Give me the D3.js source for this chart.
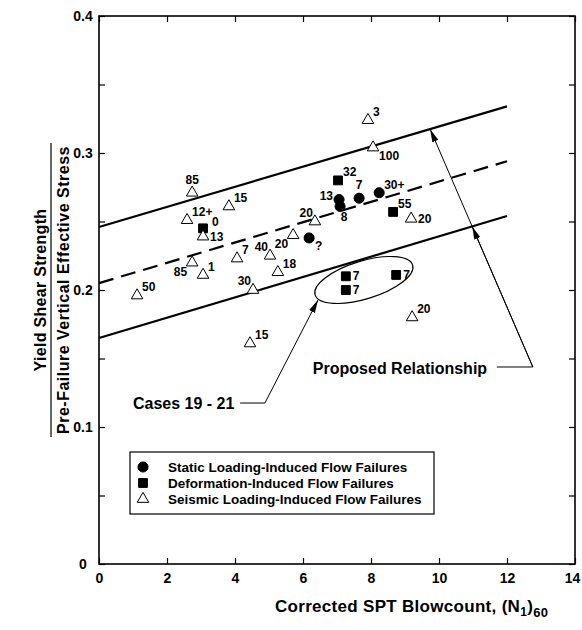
<!DOCTYPE html>
<html>
<head>
<meta charset="utf-8">
<script src="https://cdn.jsdelivr.net/npm/d3@7"></script>
<style>
  body { margin: 0; background: #fff; }
  svg text { font-family: "Liberation Sans", Arial, Helvetica, sans-serif; font-weight: bold; fill: #000; }
</style>
</head>
<body>
<div id="chart"></div>
<script>
// Chart data.
let seismicX = [2.74, 2.59, 3.06, 3.82, 2.74, 3.06, 1.12, 4.06, 5.03, 5.71, 5.26, 6.35, 4.53, 4.44, 9.21, 9.18, 8.06, 7.91];
let seismicY = [0.271, 0.251, 0.239, 0.261, 0.220, 0.211, 0.196, 0.223, 0.225, 0.240, 0.213, 0.250, 0.200, 0.161, 0.180, 0.252, 0.304, 0.324];
let seismicLabels = ['85', '12+', '13', '15', '85', '1', '50', '7', '40', '20', '18', '20', '30', '15', '20', '20', '100', '3'];
let seismicPlace = ['u', 'ur', 'r', 'ur', 'dl', 'ur', 'ur', 'ur', 'ul', 'dl', 'ur', 'ul', 'ul', 'ur', 'ur', 'r', 'dr', 'ur'];

let deformX = [3.06, 7.03, 8.65, 7.26, 7.26, 8.74];
let deformY = [0.245, 0.280, 0.257, 0.210, 0.200, 0.211];
let deformLabels = ['0', '32', '55', '7', '7', '7'];
let deformPlace = ['ru', 'ur', 'ur', 'r', 'r', 'r'];

let staticX = [7.06, 7.09, 7.65, 8.24, 6.18];
let staticY = [0.266, 0.261, 0.267, 0.271, 0.238];
let staticLabels = ['13', '8', '7', '30+', '?'];
let staticPlace = ['l', 'd', 'u', 'ur', 'dr'];

// Proposed relationship lines (x from 0 to 12).
let relX = [0, 12];
let upperY = [0.246, 0.334];
let meanY = [0.205, 0.294];
let lowerY = [0.165, 0.254];

let xTicks = [0, 2, 4, 6, 8, 10, 12, 14];
let yTicks = [0, 0.05, 0.1, 0.15, 0.2, 0.25, 0.3, 0.35, 0.4];

let legendLabels = ['Static Loading-Induced Flow Failures', 'Deformation-Induced Flow Failures', 'Seismic Loading-Induced Flow Failures'];

// Build constants.
let width = 582,
    height = 630;

let svg = d3.select('#chart')
    .append('svg')
        .attr('width', width)
        .attr('height', height);

let x = d3.scaleLinear().domain([0, 14]).range([99, 575]);
let y = d3.scaleLinear().domain([0, 0.4]).range([564, 16]);

// Axes, ticks pointing inward.
let yFmt = d => {
    let r = Math.round(d * 100);
    if (r % 10 !== 0) return '';
    return r === 0 ? '0' : d3.format('.1f')(d);
};

svg.append('g')
    .attr('transform', `translate(0, ${y(0)})`)
    .call(d3.axisBottom(x).tickValues(xTicks).tickSize(-6).tickPadding(9))
    .call(g => g.select('.domain').remove())
    .call(g => g.selectAll('text').style('font-size', '14px'))
    .call(g => g.selectAll('text').filter(d => d === 14).attr('dx', -3));

svg.append('g')
    .attr('transform', `translate(0, ${y(0.4)})`)
    .call(d3.axisTop(x).tickValues(xTicks).tickSize(-6).tickFormat(''))
    .call(g => g.select('.domain').remove());

svg.append('g')
    .attr('transform', `translate(${x(0)}, 0)`)
    .call(d3.axisLeft(y).tickValues(yTicks).tickSize(-6).tickFormat(yFmt))
    .call(g => g.select('.domain').remove())
    .call(g => g.selectAll('text')
        .style('font-size', '14px')
        .attr('text-anchor', 'middle')
        .attr('x', -16));

svg.append('g')
    .attr('transform', `translate(${x(14)}, 0)`)
    .call(d3.axisRight(y).tickValues(yTicks).tickSize(-6).tickFormat(''))
    .call(g => g.select('.domain').remove());

svg.selectAll('.tick line').attr('stroke', '#000').attr('stroke-width', 1.2);

// Frame.
svg.append('rect')
    .attr('x', x(0))
    .attr('y', y(0.4))
    .attr('width', x(14) - x(0))
    .attr('height', y(0) - y(0.4))
    .attr('fill', 'none')
    .attr('stroke', '#000')
    .attr('stroke-width', 1.6);

// Axis titles.
let xt = svg.append('text')
    .attr('x', 275)
    .attr('y', 612)
    .style('font-size', '17px')
    .style('letter-spacing', '0.3px');
xt.append('tspan').text('Corrected SPT Blowcount, (N');
xt.append('tspan').text('1').attr('dy', 4).style('font-size', '12px');
xt.append('tspan').text(')').attr('dy', -4);
xt.append('tspan').text('60').attr('dy', 5).style('font-size', '13px');

svg.append('text')
    .attr('transform', 'translate(46, 290) rotate(-90)')
    .attr('text-anchor', 'middle')
    .style('font-size', '16px')
    .style('letter-spacing', '0.3px')
    .text('Yield Shear Strength');

svg.append('line')
    .attr('x1', 51).attr('x2', 51)
    .attr('y1', 143).attr('y2', 437)
    .attr('stroke', '#000')
    .attr('stroke-width', 1.2);

svg.append('text')
    .attr('transform', 'translate(69, 290) rotate(-90)')
    .attr('text-anchor', 'middle')
    .style('font-size', '16px')
    .style('letter-spacing', '0.5px')
    .text('Pre-Failure Vertical Effective Stress');

// Relationship lines.
let rel = [
    {ys: upperY, dash: null},
    {ys: meanY, dash: '15,8'},
    {ys: lowerY, dash: null}
];
let lineGen = d3.line().x(d => x(d[0])).y(d => y(d[1]));
svg.selectAll('path.rel')
    .data(rel)
    .join('path')
        .attr('class', 'rel')
        .attr('d', d => lineGen(relX.map((v, i) => [v, d.ys[i]])))
        .attr('fill', 'none')
        .attr('stroke', '#000')
        .attr('stroke-width', 2.2)
        .attr('stroke-dasharray', d => d.dash);

// Arrowhead marker.
svg.append('defs').append('marker')
    .attr('id', 'arrow')
    .attr('markerUnits', 'userSpaceOnUse')
    .attr('viewBox', '-13 -4 13 8')
    .attr('refX', 0)
    .attr('refY', 0)
    .attr('markerWidth', 13)
    .attr('markerHeight', 8)
    .attr('orient', 'auto')
    .append('path')
        .attr('d', 'M0,0L-13,-3.2L-13,3.2Z')
        .attr('fill', '#000');

function relAt(ys, xv) {
    return ys[0] + (ys[1] - ys[0]) * (xv - relX[0]) / (relX[1] - relX[0]);
}

// Proposed Relationship annotation.
let propBase = [12.76, 0.1438];
let propTopX = 9.74;
let propTop = [propTopX, relAt(upperY, propTopX)];
// intersection of leader with lower line
let slope = (propTop[1] - propBase[1]) / (propTop[0] - propBase[0]);
let lowSlope = (lowerY[1] - lowerY[0]) / (relX[1] - relX[0]);
let lowX = (lowerY[0] - propBase[1] + slope * propBase[0]) / (slope - lowSlope);
let propLow = [lowX, relAt(lowerY, lowX)];

svg.append('line')
    .attr('x1', x(11.7)).attr('y1', y(propBase[1]))
    .attr('x2', x(propBase[0])).attr('y2', y(propBase[1]))
    .attr('stroke', '#000').attr('stroke-width', 1);
[propTop, propLow].forEach(p => {
    svg.append('line')
        .attr('x1', x(propBase[0])).attr('y1', y(propBase[1]))
        .attr('x2', x(p[0])).attr('y2', y(p[1]))
        .attr('stroke', '#000').attr('stroke-width', 1)
        .attr('marker-end', 'url(#arrow)');
});
svg.append('text')
    .attr('x', x(6.29))
    .attr('y', y(0.139))
    .style('font-size', '16px')
    .text('Proposed Relationship');

// Cases 19 - 21 annotation.
let ellipseC = [7.79, 0.2073];
svg.append('ellipse')
    .attr('transform', `translate(${x(ellipseC[0])}, ${y(ellipseC[1])}) rotate(-17)`)
    .attr('rx', x(1.5) - x(0))
    .attr('ry', 19)
    .attr('fill', 'none')
    .attr('stroke', '#000')
    .attr('stroke-width', 1.2);

svg.append('path')
    .attr('d', lineGen([[4.15, 0.1175], [4.88, 0.1175], [6.44, 0.1927]]))
    .attr('fill', 'none')
    .attr('stroke', '#000')
    .attr('stroke-width', 1)
    .attr('marker-end', 'url(#arrow)');
svg.append('text')
    .attr('x', x(1.0))
    .attr('y', y(0.113))
    .style('font-size', '16px')
    .text('Cases 19 - 21');

// Points.
let placeOff = {
    ur: [5, -8, 'start'],
    ru: [9, -6, 'start'],
    r: [7, 0, 'start'],
    dr: [6, 8, 'start'],
    ul: [-2, -9, 'end'],
    l: [-6, -4, 'end'],
    dl: [-5, 9, 'end'],
    u: [0, -13, 'middle'],
    d: [4, 11, 'middle']
};
let groups = [
    {xs: staticX, ys: staticY, labels: staticLabels, place: staticPlace, type: d3.symbolCircle, size: 80, fill: '#000'},
    {xs: deformX, ys: deformY, labels: deformLabels, place: deformPlace, type: d3.symbolSquare, size: 78, fill: '#000'},
    {xs: seismicX, ys: seismicY, labels: seismicLabels, place: seismicPlace, type: d3.symbolTriangle, size: 58, fill: '#fff'}
];

groups.forEach(grp => {
    let pts = grp.xs.map((v, i) => ({x: v, y: grp.ys[i], label: grp.labels[i], place: grp.place[i]}));
    let g = svg.append('g');
    g.selectAll('path')
        .data(pts)
        .join('path')
            .attr('d', d3.symbol().type(grp.type).size(grp.size))
            .attr('transform', d => `translate(${x(d.x)}, ${y(d.y)})`)
            .attr('fill', grp.fill)
            .attr('stroke', '#000')
            .attr('stroke-width', 1);
    g.selectAll('text')
        .data(pts)
        .join('text')
            .attr('x', d => x(d.x) + placeOff[d.place][0])
            .attr('y', d => y(d.y) + placeOff[d.place][1] + 4)
            .attr('text-anchor', d => placeOff[d.place][2])
            .style('font-size', '12px')
            .text(d => d.label);
});

// Legend.
let legend = svg.append('g');
legend.append('rect')
    .attr('x', 130).attr('y', 452)
    .attr('width', 304).attr('height', 62)
    .attr('fill', '#fff')
    .attr('stroke', '#000')
    .attr('stroke-width', 1.2);
legend.selectAll('path')
    .data(groups)
    .join('path')
        .attr('d', d => d3.symbol().type(d.type).size(d.size)())
        .attr('transform', (d, i) => `translate(143, ${467 + i * 16})`)
        .attr('fill', d => d.fill)
        .attr('stroke', '#000')
        .attr('stroke-width', 1);
legend.selectAll('text')
    .data(legendLabels)
    .join('text')
        .attr('x', 168)
        .attr('y', (d, i) => 472 + i * 16)
        .style('font-size', '13.5px')
        .text(d => d);
</script>
</body>
</html>
